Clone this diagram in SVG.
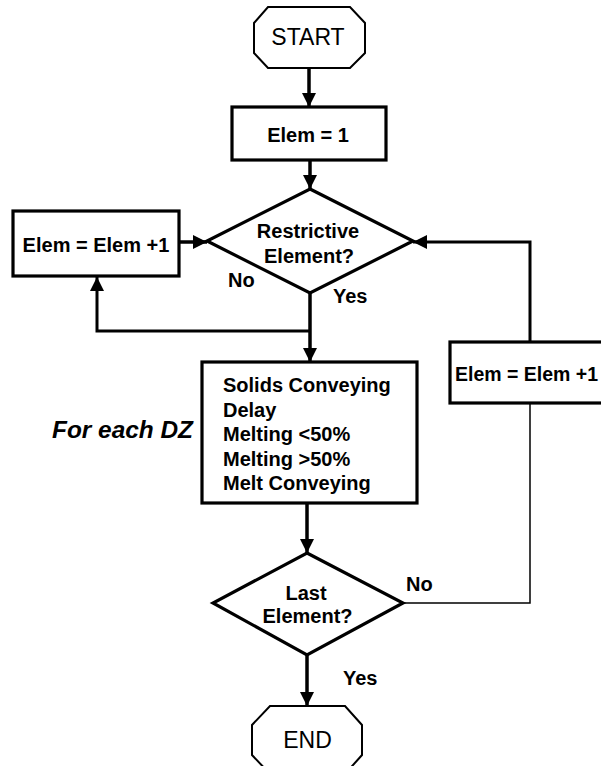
<svg xmlns="http://www.w3.org/2000/svg" width="601" height="766" viewBox="0 0 601 766">
<defs>
<style>
.shape{fill:#fff;stroke:#000;stroke-width:3.2;stroke-linejoin:miter}
.term{fill:#fff;stroke:#000;stroke-width:2}
.b{font-family:"Liberation Sans",Arial,sans-serif;font-weight:bold;font-size:20px;fill:#000}
.r{font-family:"Liberation Sans",Arial,sans-serif;font-size:23px;fill:#000}
.bi{font-family:"Liberation Sans",Arial,sans-serif;font-weight:bold;font-style:italic;font-size:23px;fill:#000}
.c{text-anchor:middle}
.ln{fill:none;stroke:#000;stroke-width:3.5}
.thin{fill:none;stroke:#000;stroke-width:1.5}
</style>
<marker id="ah" viewBox="0 0 14 14" refX="14" refY="7" markerWidth="14" markerHeight="14" markerUnits="userSpaceOnUse" orient="auto">
<path d="M0,0 L14,7 L0,14 z" fill="#000"/>
</marker>
</defs>
<rect width="601" height="766" fill="#fff"/>
<g id="connectors">
<path class="ln" d="M309,68 V107" marker-end="url(#ah)"/>
<path class="ln" d="M310,160 V189" marker-end="url(#ah)"/>
<path class="ln" d="M179,242 H207" marker-end="url(#ah)"/>
<path class="ln" d="M310,292 V362" marker-end="url(#ah)"/>
<path class="ln" style="stroke-width:3" d="M310,331 H97 V277" marker-end="url(#ah)"/>
<path class="ln" style="stroke-width:3" d="M530,342 V242 H413" marker-end="url(#ah)"/>
<path class="thin" d="M403,603 H530 V403"/>
<path class="ln" d="M307,503 V553" marker-end="url(#ah)"/>
<path class="ln" d="M307,655 V706" marker-end="url(#ah)"/>
</g>
<g id="start">
<polygon class="term" points="268,7 350,7 365,23 365,53 350,68 268,68 254,53 254,23"/>
<text class="r c" x="308" y="45">START</text>
</g>
<g id="elem1">
<rect class="shape" x="232" y="107" width="154" height="53"/>
<text class="b c" x="308" y="142">Elem = 1</text>
</g>
<g id="restrictive">
<polygon class="shape" points="310,189 413,241 310,293 207,241"/>
<text class="b c" x="308" y="238">Restrictive</text>
<text class="b c" x="309" y="263">Element?</text>
</g>
<g id="incLeft">
<rect class="shape" x="13" y="211" width="166" height="65"/>
<text class="b c" x="96" y="252">Elem = Elem +1</text>
</g>
<g id="process">
<rect class="shape" x="202" y="362" width="215" height="141"/>
<text class="b" x="223" y="392">Solids Conveying</text>
<text class="b" x="223" y="416.5">Delay</text>
<text class="b" x="223" y="441">Melting &lt;50%</text>
<text class="b" x="223" y="465.5">Melting &gt;50%</text>
<text class="b" x="223" y="490">Melt Conveying</text>
</g>
<g id="incRight">
<rect class="shape" x="450" y="342" width="165" height="61"/>
<text class="b" x="455" y="381" textLength="143" lengthAdjust="spacingAndGlyphs">Elem = Elem +1</text>
</g>
<g id="last">
<polygon class="shape" points="307,553 403,603 307,655 213,603"/>
<text class="b c" x="306" y="600">Last</text>
<text class="b c" x="307.5" y="623">Element?</text>
</g>
<g id="end">
<polygon class="term" points="270,706 345,706 362,725 362,755 345,774 270,774 252,755 252,725"/>
<text class="r c" x="307.5" y="748">END</text>
</g>
<g id="labels">
<text class="b" x="228" y="287">No</text>
<text class="b" x="333" y="303">Yes</text>
<text class="b" x="406" y="591">No</text>
<text class="b" x="343" y="685">Yes</text>
<text class="bi" x="52" y="438" textLength="141" lengthAdjust="spacingAndGlyphs">For each DZ</text>
</g>
</svg>
